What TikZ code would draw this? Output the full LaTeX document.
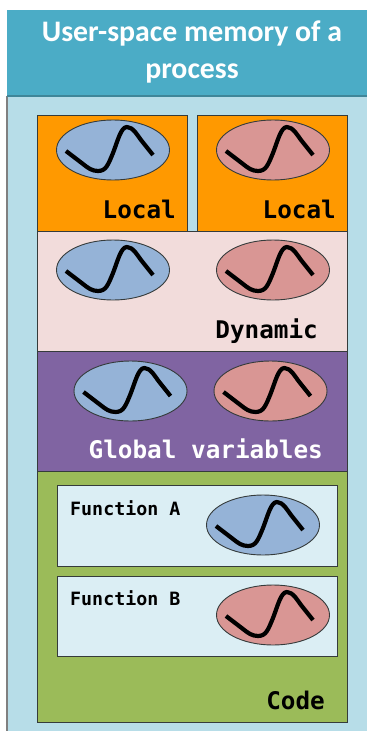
\documentclass[tikz,border=0pt]{standalone}
\usepackage{fontspec}
\setmainfont{Carlito}
\newfontfamily\labelmono{DejaVu Sans Mono}
\usetikzlibrary{shapes.geometric}
\definecolor{headc}{HTML}{4BACC6}
\definecolor{headl}{HTML}{3F8699}
\definecolor{bodyc}{HTML}{B7DDE8}
\definecolor{edgec}{HTML}{353B3B}
\definecolor{orangec}{HTML}{FF9900}
\definecolor{pinkc}{HTML}{F2DCDB}
\definecolor{purplec}{HTML}{8064A2}
\definecolor{greenc}{HTML}{9BBB59}
\definecolor{paleb}{HTML}{DBEEF4}
\definecolor{bluee}{HTML}{95B3D7}
\definecolor{rede}{HTML}{D99694}
\tikzset{
  boxn/.style={draw=edgec,line width=0.9pt,anchor=north west,inner sep=0pt,outer sep=0pt},
  blob/.style={shape=ellipse,draw=edgec,line width=0.9pt,minimum width=113pt,minimum height=60pt,inner sep=0pt},
  bluebl/.style={blob,fill=bluee},
  redbl/.style={blob,fill=rede},
  wavy/.style={line width=4.2pt,draw=black,line join=round},
  biglab/.style={font=\labelmono\bfseries\fontsize{24.3}{26}\selectfont,inner sep=0pt},
  smalllab/.style={font=\labelmono\bfseries\fontsize{18.3}{20}\selectfont,inner sep=0pt,anchor=base west},
  titlet/.style={font=\bfseries\fontsize{29.8}{36.5}\selectfont,text=white,align=center,inner sep=0pt}
}
\newcommand{\wavein}[1]{%
  \draw[wavy] ([shift={(-47,1)}]#1.center) -- ([shift={(-30,14)}]#1.center) .. controls ([shift={(-25,18)}]#1.center) and ([shift={(-21,21)}]#1.center) .. ([shift={(-15,21)}]#1.center)
   .. controls ([shift={(-7,21)}]#1.center) and ([shift={(-5,15)}]#1.center) .. ([shift={(0,3)}]#1.center)
   .. controls ([shift={(5,-10)}]#1.center) and ([shift={(8,-23)}]#1.center) .. ([shift={(14,-23)}]#1.center)
   .. controls ([shift={(20,-23)}]#1.center) and ([shift={(25,-14)}]#1.center) .. ([shift={(28,-10)}]#1.center) -- ([shift={(40,5)}]#1.center);}
\begin{document}
\begin{tikzpicture}[x=1pt,y=-1pt]
\useasboundingbox (0,0) rectangle (367,731);
\node[anchor=north west,fill=bodyc,draw=none,minimum width=360pt,minimum height=635pt,inner sep=0pt] (body) at (7,96) {};
\draw[gray,line width=1.2pt] (body.north west) -- (body.south west);
\node[anchor=north west,fill=headc,minimum width=360pt,minimum height=86pt,inner sep=0pt] (head) at (7,10) {};
\draw[headl,line width=2pt] (head.south west) -- (head.south east);
\node[titlet] (title) at (192,52) {User-space memory of a\\process};

\node[boxn,fill=orangec,minimum width=150pt,minimum height=116pt] (loca) at (37,115) {};
\node[boxn,fill=orangec,minimum width=150pt,minimum height=116pt] (locb) at (197,115) {};
\node[boxn,fill=pinkc,minimum width=310pt,minimum height=120pt] (dyn) at (37,231) {};
\node[boxn,fill=purplec,minimum width=310pt,minimum height=120pt] (glob) at (37,351) {};
\node[boxn,fill=greenc,minimum width=310pt,minimum height=251pt] (code) at (37,471) {};
\node[boxn,fill=paleb,minimum width=280pt,minimum height=81pt] (funa) at (57,485) {};
\node[boxn,fill=paleb,minimum width=280pt,minimum height=80pt] (funb) at (57,576) {};

\node[bluebl] (e1) at (113,150) {}; \wavein{e1}
\node[redbl] (e2) at (273,150) {}; \wavein{e2}
\node[bluebl] (e3) at (113,270) {}; \wavein{e3}
\node[redbl] (e4) at (273,270) {}; \wavein{e4}
\node[bluebl] (e5) at (130.5,391) {}; \wavein{e5}
\node[redbl] (e6) at (270.5,391) {}; \wavein{e6}
\node[bluebl] (e7) at (263,525) {}; \wavein{e7}
\node[redbl] (e8) at (273,615) {}; \wavein{e8}

\node[biglab,anchor=base east] (l1) at (176,218) {Local};
\node[biglab,anchor=base east] (l2) at (336,218) {Local};
\node[biglab,anchor=base east] (l3) at (318,338.5) {Dynamic};
\node[biglab,anchor=base east,text=white] (l4) at (323,458.5) {Global variables};
\node[biglab,anchor=base east] (l5) at (325,709.5) {Code};
\node[smalllab] (l6) at (70,515) {Function A};
\node[smalllab] (l7) at (70,605) {Function B};
\end{tikzpicture}
\end{document}
